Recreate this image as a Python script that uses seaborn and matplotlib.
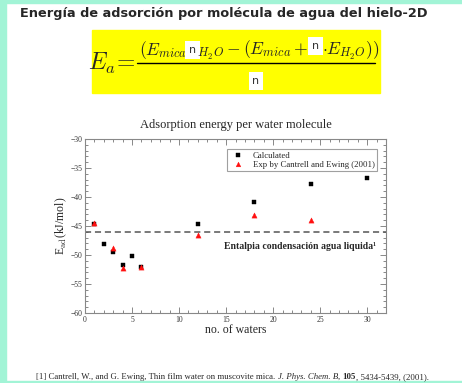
import numpy as np
import pandas as pd
import matplotlib
matplotlib.use("Agg")
import matplotlib.pyplot as plt
import seaborn as sns
from matplotlib.patches import Rectangle
from matplotlib.lines import Line2D

# ---------------- data ----------------
calc_n = [1, 2, 3, 4, 5, 6, 12, 18, 24, 30]
calc_e = [-44.7, -48.1, -49.4, -51.8, -50.2, -52.1, -44.7, -40.9, -37.8, -36.8]
exp_n = [1, 3, 4, 6, 12, 18, 24]
exp_e = [-44.5, -48.8, -52.2, -52.0, -46.6, -43.1, -44.0]
liquid_enthalpy = -46.0
x_ticks = [0, 5, 10, 15, 20, 25, 30]
y_ticks = [-60, -55, -50, -45, -40, -35, -30]

W, H = 462, 383
sns.set_theme(style="ticks")
plt.rcParams['font.family'] = ['DejaVu Sans']
plt.rcParams['mathtext.fontset'] = 'cm'
fig = plt.figure(figsize=(W / 100, H / 100), dpi=100)
fig.patch.set_facecolor("white")

def fx(px):
    return px / W

def fy(py):
    return 1 - py / H

# green slide border
green = "#a2f4d6"
fig.patches.append(Rectangle((0, 0), 6 / W, 1, transform=fig.transFigure, color=green, zorder=0))
fig.patches.append(Rectangle((0, fy(3)), 1, 3 / H, transform=fig.transFigure, color=green, zorder=0))
fig.patches.append(Rectangle((0, 0), 1, 2 / H, transform=fig.transFigure, color=green, zorder=0))

# slide title
fig.text(fx(20), fy(13), "Energía de adsorción por molécula de agua del hielo-2D",
         fontsize=9.3, fontweight="bold", family="DejaVu Sans", va="center", ha="left")

# yellow formula box
fig.patches.append(Rectangle((fx(92), fy(93)), fx(380) - fx(92), fy(30) - fy(93),
                             transform=fig.transFigure, color="#ffff00", zorder=1))

renderer = fig.canvas.get_renderer()

def place_seq(pieces, x0, ybase):
    x = x0
    for s, kw in pieces:
        kw = dict(kw)
        dy = kw.pop("dy", 0)
        pre = kw.pop("pre", 0)
        x += pre
        t = fig.text(fx(x), fy(ybase - dy), s, va="baseline", ha="left", zorder=3, **kw)
        bb = t.get_window_extent(renderer)
        x = bb.x1
    return x

nbox = dict(fontsize=8, family="DejaVu Sans", color="#333333",
            bbox=dict(boxstyle="square,pad=0.35", fc="white", ec="none"))

fig.text(fx(135), fy(70), r"$E_a\!=$", fontsize=17, va="baseline", ha="right", zorder=3)
msize = 12.6
place_seq([
    (r"$(E_{mica}$", dict(fontsize=msize)),
    ("n", dict(nbox, pre=2, dy=2)),
    (r"${}_{H_2O}-(E_{mica}+$", dict(fontsize=msize, pre=1)),
    ("n", dict(nbox, pre=3, dy=6)),
    (r"$\cdot E_{H_2O}))$", dict(fontsize=msize, pre=3)),
], 139, 55)
fig.lines.append(Line2D([fx(137), fx(375)], [fy(63), fy(63)], transform=fig.transFigure,
                        color="black", lw=1, zorder=3))
fig.text(fx(256), fy(81), "n", ha="center", va="center", zorder=3, **nbox)

# ---------------- chart ----------------
ax = fig.add_axes([fx(85), fy(313), fx(386) - fx(85), fy(139) - fy(313)])
ax.set_facecolor("white")
calc_df = pd.DataFrame({"n": calc_n, "E": calc_e})
exp_df = pd.DataFrame({"n": exp_n, "E": exp_e})

ax.axhline(liquid_enthalpy, color="#555555", lw=1.1, ls=(0, (4, 2.5)), zorder=1)
sns.scatterplot(data=calc_df, x="n", y="E", marker="s", color="black", s=12,
                edgecolor="black", linewidth=0.3, label="Calculated", ax=ax, zorder=3)
sns.scatterplot(data=exp_df, x="n", y="E", marker="^", color="#ff1010", s=14,
                edgecolor="#ff1010", linewidth=0.3, label="Exp by Cantrell and Ewing (2001)",
                ax=ax, zorder=4)

ax.set_xlim(0, 32)
ax.set_ylim(-60, -30)
ax.set_xticks(x_ticks)
ax.set_yticks(y_ticks)
ax.set_xticks(np.arange(0, 33, 1), minor=True)
ax.set_yticks(np.arange(-60, -29, 1), minor=True)
serif = ["Liberation Serif", "DejaVu Serif"]
for lab in ax.get_xticklabels() + ax.get_yticklabels():
    lab.set_family(serif)
    lab.set_fontsize(5.5)
    lab.set_color("#333333")
ax.tick_params(which="both", direction="in", top=True, right=True, color="#888888", width=0.7)
ax.tick_params(which="major", length=4, pad=2)
ax.tick_params(which="minor", length=2)
for sp in ax.spines.values():
    sp.set_color("#888888")
    sp.set_linewidth(0.8)

ax.set_xlabel("no. of waters", family=serif, fontsize=8.5, labelpad=0)
ax.set_ylabel(r"E$_{\rm ad}$(kJ/mol)", family=serif, fontsize=8.5, labelpad=1)
ax.set_title("Adsorption energy per water molecule", family=serif, fontsize=9, pad=8)

leg = ax.legend(loc="upper right", bbox_to_anchor=(0.985, 0.968), prop={"family": serif, "size": 6.3},
                frameon=True, fancybox=False, edgecolor="#888888", borderpad=0.3,
                handletextpad=0.8, labelspacing=0.1, handlelength=1.8, markerscale=0.9)
leg.get_frame().set_linewidth(0.8)

ax.text(14.8, -48.6, "Entalpia condensación agua liquida¹", family=serif, fontsize=7,
        fontweight="bold", va="center", ha="left", zorder=5)

# footnote
fsz = 6.3
place_seq([
    ("[1] Cantrell, W., and G. Ewing, Thin film water on muscovite mica. ", dict(family=serif, fontsize=fsz)),
    ("J. Phys. Chem. B", dict(family=serif, fontsize=fsz, style="italic")),
    (", ", dict(family=serif, fontsize=fsz)),
    ("105", dict(family=serif, fontsize=fsz, fontweight="bold")),
    (", 5434-5439, (2001).", dict(family=serif, fontsize=fsz)),
], 36, 379)

fig.savefig("out.png", dpi=100)
